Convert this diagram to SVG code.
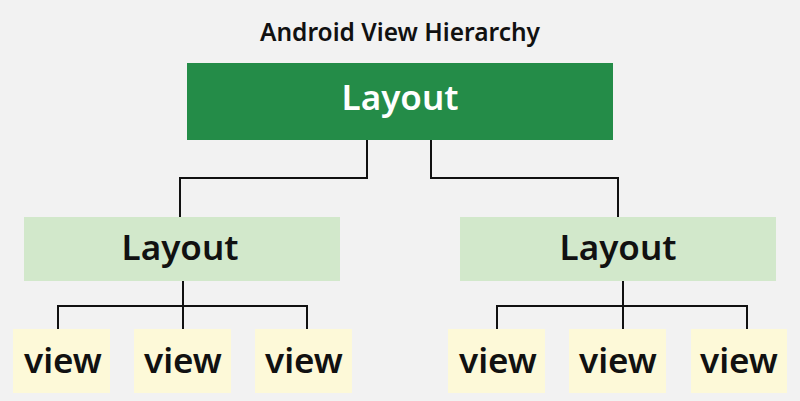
<svg xmlns="http://www.w3.org/2000/svg" width="800" height="401" viewBox="0 0 800 401">
<style>
.t{font-family:"Noto Sans","Open Sans",sans-serif;font-weight:600;text-anchor:middle}
.big{font-size:35px}
.view{fill:#fdf9d8}
.lay{fill:#d2e8cb}
.c{fill:none;stroke:#111;stroke-width:2}
</style>
<rect width="800" height="401" fill="#f2f2f2"/>
<text class="t" x="400" y="41" font-size="24.5" fill="#111">Android View Hierarchy</text>
<g id="connectors">
<path class="c" d="M367 140V178H180V217"/>
<path class="c" d="M431 140V178H618V217"/>
<path class="c" d="M183 281V329M58 329V306H307V329"/>
<path class="c" d="M623 281V329M497 329V306H747V329"/>
</g>
<g id="root"><rect x="187" y="63" width="426" height="77" fill="#248c48"/><text class="t big" x="400" y="110" fill="#fff">Layout</text></g>
<g id="layoutL"><rect class="lay" x="24" y="217" width="316" height="64"/><text class="t big" x="180" y="260" fill="#111">Layout</text></g>
<g id="layoutR"><rect class="lay" x="460" y="217" width="316" height="64"/><text class="t big" x="618" y="260" fill="#111">Layout</text></g>
<g id="v1"><rect class="view" x="13" y="329" width="97" height="64"/><text class="t big" x="63" y="373" fill="#111">view</text></g>
<g id="v2"><rect class="view" x="134" y="329" width="97" height="64"/><text class="t big" x="183" y="373" fill="#111">view</text></g>
<g id="v3"><rect class="view" x="255" y="329" width="97" height="64"/><text class="t big" x="304" y="373" fill="#111">view</text></g>
<g id="v4"><rect class="view" x="448" y="329" width="97" height="64"/><text class="t big" x="498" y="373" fill="#111">view</text></g>
<g id="v5"><rect class="view" x="569" y="329" width="97" height="64"/><text class="t big" x="618" y="373" fill="#111">view</text></g>
<g id="v6"><rect class="view" x="691" y="329" width="96" height="64"/><text class="t big" x="739" y="373" fill="#111">view</text></g>
</svg>
